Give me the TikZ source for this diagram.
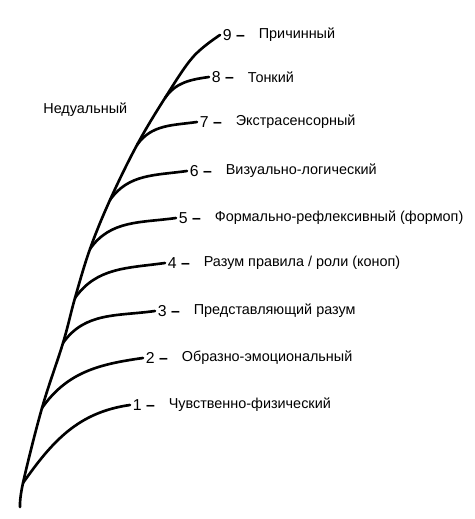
\documentclass[tikz,border=0pt]{standalone}
\usepackage{fontspec}
\setmainfont{Liberation Sans}
\usetikzlibrary{positioning}

\begin{document}
\begin{tikzpicture}[x=0.02cm, y=0.02cm,
  stem/.style={line width=1.5pt, line cap=round},
  num/.style={inner sep=1pt, font=\fontsize{9}{11}\selectfont},
  lvl/.style={inner sep=0pt, font=\fontsize{8.2}{10}\selectfont}]
  \useasboundingbox (0,0) rectangle (475,519);

  \coordinate (m0) at (20,12) ;
  \coordinate (b1) at (23,36) ;
  \coordinate (b2) at (42,111) ;
  \coordinate (b3) at (63,176) ;
  \coordinate (b4) at (75,221) ;
  \coordinate (b5) at (90,270) ;
  \coordinate (b6) at (110,319) ;
  \coordinate (b7) at (137,374) ;
  \coordinate (b8) at (165,421) ;
  \coordinate (m9) at (193,462) ;
  \coordinate (e9) at (220,484) ;

  \draw[stem] plot[smooth, tension=0.6] coordinates {(m0) (b1) (b2) (b3) (b4) (b5) (b6) (b7) (b8) (m9) (e9)};

  \foreach \n/\x/\y in {1/130/114, 2/143/161, 3/155/208, 4/165/256, 5/176/301, 6/187/348, 7/197/397, 8/209/442}
    \coordinate (e\n) at (\x,\y);

  \foreach \n in {1,...,8}
    \draw[stem] (b\n) to[out=55, in=188] (e\n);

  \foreach \n/\txt in {1/{Чувственно-физический}, 2/{Образно-эмоциональный}, 3/{Представляющий разум},
      4/{Разум правила / роли (коноп)}, 5/{Формально-рефлексивный (формоп)}, 6/{Визуально-логический},
      7/{Экстрасенсорный}, 8/{Тонкий}, 9/{Причинный}} {
    \node[num, right=0.5pt of e\n] (n\n) {\n\ \textbf{--}};
    \node[lvl, right=6.5pt of n\n] (l\n) {\txt};
  }

  \node[lvl, anchor=west] (nedual) at (43,409) {Недуальный};

\end{tikzpicture}
\end{document}
